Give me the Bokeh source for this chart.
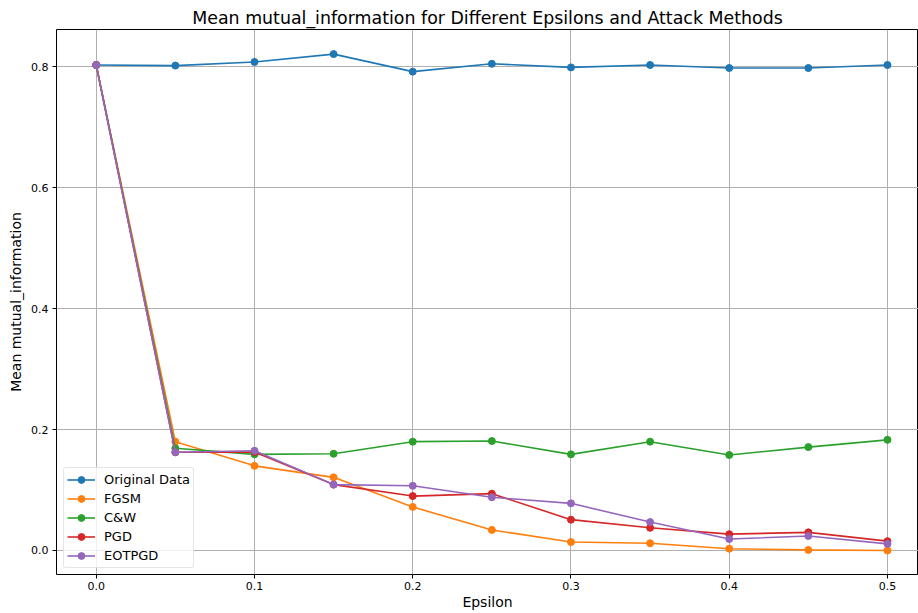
from bokeh.plotting import figure
from bokeh.models import FixedTicker, CustomJSTickFormatter, Legend, LegendItem, Range1d
from bokeh.embed import file_html
from bokeh.resources import INLINE

epsilons = [0.0, 0.05, 0.1, 0.15, 0.2, 0.25, 0.3, 0.35, 0.4, 0.45, 0.5]
original = [0.803, 0.802, 0.808, 0.821, 0.792, 0.805, 0.799, 0.803, 0.798, 0.798, 0.803]
fgsm = [0.803, 0.180, 0.140, 0.121, 0.072, 0.034, 0.014, 0.012, 0.003, 0.001, 0.000]
cw = [0.803, 0.169, 0.159, 0.160, 0.180, 0.181, 0.159, 0.180, 0.158, 0.171, 0.183]
pgd = [0.803, 0.1625, 0.163, 0.109, 0.090, 0.094, 0.051, 0.0375, 0.027, 0.030, 0.0155]
eotpgd = [0.803, 0.1625, 0.165, 0.109, 0.107, 0.088, 0.078, 0.047, 0.019, 0.024, 0.011]

series_names = ["Original Data", "FGSM", "C&W", "PGD", "EOTPGD"]
series_values = [original, fgsm, cw, pgd, eotpgd]
colors = ["#1f77b4", "#ff7f0e", "#2ca02c", "#d62728", "#9467bd"]

x_ticks = [0.0, 0.1, 0.2, 0.3, 0.4, 0.5]
y_ticks = [0.0, 0.2, 0.4, 0.6, 0.8]

FONT = "DejaVu Sans"

p = figure(width=918, height=613, output_backend="svg", toolbar_location=None,
           x_range=Range1d(-0.0251, 0.5196), y_range=Range1d(-0.0397, 0.8617),
           min_border_left=56, min_border_right=0, min_border_top=29, min_border_bottom=39)

p.title.text = "Mean mutual_information for Different Epsilons and Attack Methods"
p.title.align = "center"
p.title.text_font = FONT
p.title.text_font_size = "17.4px"
p.title.text_font_style = "normal"
p.title.text_color = "black"
p.title.offset = 0
p.title.standoff = 4

p.outline_line_color = "black"
p.outline_line_width = 1
p.outline_line_alpha = 1

for ax in (p.xaxis[0], p.yaxis[0]):
    ax.axis_line_color = None
    ax.major_tick_out = 4
    ax.major_tick_in = 0
    ax.minor_tick_out = 0
    ax.minor_tick_in = 0
    ax.major_tick_line_color = "black"
    ax.major_label_text_font = FONT
    ax.major_label_text_font_size = "11px"
    ax.major_label_text_color = "black"
    ax.axis_label_text_font = FONT
    ax.axis_label_text_font_size = "14px"
    ax.axis_label_text_font_style = "normal"
    ax.axis_label_text_color = "black"

p.xaxis[0].ticker = FixedTicker(ticks=x_ticks)
p.yaxis[0].ticker = FixedTicker(ticks=y_ticks)
p.xaxis[0].formatter = CustomJSTickFormatter(code="return tick.toFixed(1);")
p.yaxis[0].formatter = CustomJSTickFormatter(code="return tick.toFixed(1);")
p.xaxis[0].axis_label = "Epsilon"
p.yaxis[0].axis_label = "Mean mutual_information"
p.xaxis[0].major_label_standoff = 3
p.yaxis[0].major_label_standoff = 4
p.xaxis[0].axis_label_standoff = 1
p.yaxis[0].axis_label_standoff = 4

p.xgrid.grid_line_color = "#b0b0b0"
p.ygrid.grid_line_color = "#b0b0b0"
p.xgrid.grid_line_width = 1
p.ygrid.grid_line_width = 1

items = []
for name, vals, c in zip(series_names, series_values, colors):
    l = p.line(epsilons, vals, line_color=c, line_width=1.6)
    s = p.scatter(epsilons, vals, size=7, fill_color=c, line_color=c)
    items.append(LegendItem(label=name, renderers=[l, s]))

legend = Legend(items=items, location=(7, 6))
legend.label_text_font = FONT
legend.label_text_font_size = "13px"
legend.label_text_color = "black"
legend.glyph_width = 28
legend.glyph_height = 17
legend.label_height = 17
legend.label_standoff = 9
legend.spacing = 2
legend.padding = 3
legend.margin = 0
legend.border_line_color = "#cccccc"
legend.border_line_width = 1
legend.border_radius = 3
legend.background_fill_alpha = 0.8
p.add_layout(legend, "center")

open("out.html", "w").write(file_html(p, INLINE))
